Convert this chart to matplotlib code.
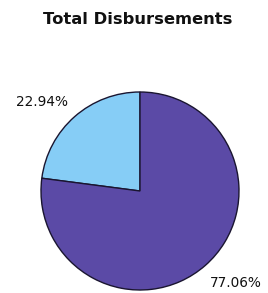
import matplotlib
matplotlib.use('Agg')
import matplotlib.pyplot as plt

# chart data
labels = ['22.94%', '77.06%']
shares = [22.94, 77.06]
colors = ['#86cdf6', '#5b4aa6']

fig = plt.figure(figsize=(2.68, 2.93), dpi=100)
fig.text(138 / 268, 1 - 19 / 293, 'Total Disbursements', ha='center', va='center',
         fontsize=11.8, fontweight='bold', color='#111111')

# pie area in figure coords (center ~ (140,191) px, radius ~99 px)
ax = fig.add_axes([41 / 268, 1 - 290 / 293, 198 / 268, 198 / 293])
wedges, _ = ax.pie(shares, colors=colors, startangle=90, counterclock=True,
                   wedgeprops=dict(edgecolor='#1a1530', linewidth=1.0))
ax.set_aspect('equal')
ax.set_xlim(-1, 1)
ax.set_ylim(-1, 1)
ax.axis('off')

fig.text(16 / 268, 1 - 102 / 293, labels[0], ha='left', va='center', fontsize=9.8, color='#111111')
fig.text(210 / 268, 1 - 283 / 293, labels[1], ha='left', va='center', fontsize=9.8, color='#111111')

fig.savefig('out.png', dpi=100)
